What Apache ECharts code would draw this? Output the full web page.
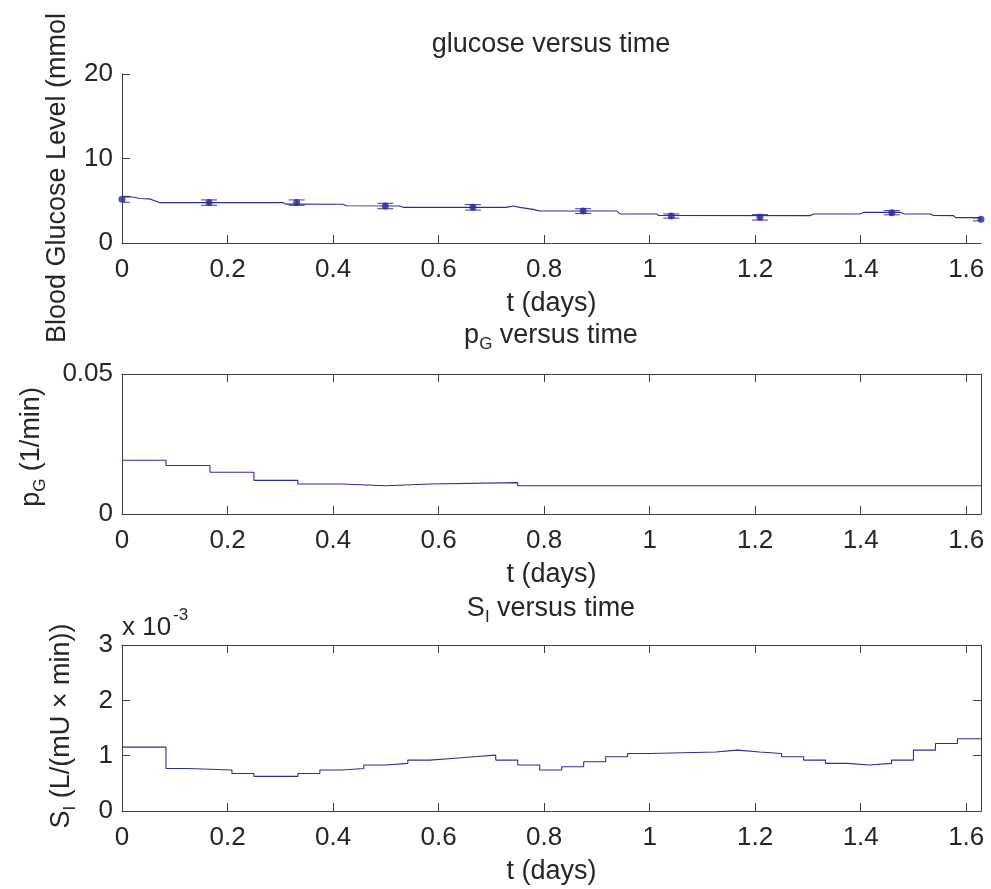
<!DOCTYPE html>
<html>
<head>
<meta charset="utf-8">
<title>glucose versus time</title>
<script src="https://cdn.jsdelivr.net/npm/echarts@6/dist/echarts.min.js"></script>
<style>
  html, body { margin: 0; padding: 0; background: #fff; }
  #chart { width: 991px; height: 889px; }
</style>
</head>
<body>
<div id="chart"></div>
<script>
// x axis (days)
const xTicks = [0, 0.2, 0.4, 0.6, 0.8, 1, 1.2, 1.4, 1.6];
const xMax = 1.628;

// glucose measurements (mmol/L) with error bars
const glucoseTimes = [0, 0.165, 0.331, 0.499, 0.665, 0.874, 1.041, 1.209, 1.459, 1.628];
const glucoseMeans = [5.17, 4.78, 4.78, 4.38, 4.22, 3.78, 3.19, 3.04, 3.59, 2.80];
const glucoseErr = [0.35, 0.32, 0.32, 0.32, 0.33, 0.28, 0.25, 0.32, 0.25, 0.18];

// model fit of glucose
const fitTimes = [0, 0.008, 0.02, 0.033, 0.052, 0.062, 0.071, 0.305, 0.311, 0.419, 0.425, 0.526, 0.533,
  0.729, 0.741, 0.754, 0.779, 0.79, 0.938, 0.944, 1.013, 1.017, 1.304, 1.311, 1.399, 1.406,
  1.475, 1.482, 1.532, 1.538, 1.576, 1.58, 1.628];
const fitValues = [5.45, 5.49, 5.45, 5.27, 5.22, 5.0, 4.78, 4.78, 4.6, 4.58, 4.4, 4.38, 4.22,
  4.22, 4.38, 4.22, 3.98, 3.8, 3.78, 3.45, 3.43, 3.25, 3.24, 3.43, 3.43, 3.63,
  3.63, 3.45, 3.43, 3.25, 3.24, 3.0, 3.0];

// pG (1/min), stairs
const pgTimes = [0, 0.0833, 0.1667, 0.25, 0.3333, 0.4167, 0.5, 0.5833, 0.75, 1.628];
const pgValues = [0.0192, 0.0173, 0.0149, 0.0120, 0.0107, 0.0101, 0.0107, 0.0112, 0.0101, 0.0101];

// SI (x 10^-3), stairs
const siTimes = [0, 0.0833, 0.125, 0.2083, 0.25, 0.3333, 0.375, 0.4167, 0.4583, 0.5, 0.5417,
  0.5833, 0.625, 0.6667, 0.7083, 0.75, 0.7917, 0.8333, 0.875, 0.9167, 0.9583, 1.0,
  1.125, 1.1667, 1.2083, 1.25, 1.2917, 1.3333, 1.375, 1.4167, 1.4583, 1.5, 1.5417, 1.5833, 1.628];
const siValues = [1.155, 0.769, 0.740, 0.679, 0.625, 0.679, 0.740, 0.769, 0.830, 0.860, 0.920,
  0.950, 0.980, 1.010, 0.920, 0.830, 0.740, 0.800, 0.890, 0.980, 1.040, 1.065,
  1.101, 1.065, 1.040, 0.980, 0.920, 0.860, 0.830, 0.860, 0.920, 1.101, 1.220, 1.305, 1.305];

// y ticks
const glucoseTicks = [0, 10, 20];
const pgTicks = [0, 0.05];
const siTicks = [0, 1, 2, 3];

const font = 'Liberation Sans, Arial, Helvetica, sans-serif';
const textColor = '#262626';
const axisColor = '#404040';
const lineColor = '#2c2c9c';

const chart = echarts.init(document.getElementById('chart'));

function pairs(xs, ys) {
  return xs.map((x, i) => [x, ys[i]]);
}

function xAx(gridIndex, position, withLabels) {
  return {
    type: 'value', gridIndex: gridIndex, position: position,
    min: 0, max: xMax,
    axisLine: { show: true, onZero: false, lineStyle: { color: axisColor, width: 1 } },
    axisTick: { show: true, inside: true, length: 8, customValues: xTicks, lineStyle: { color: axisColor } },
    axisLabel: { show: withLabels, customValues: xTicks, margin: 14, fontSize: 26, fontFamily: font, color: textColor },
    splitLine: { show: false },
    name: withLabels ? 't (days)' : '',
    nameLocation: 'middle', nameGap: 47,
    nameTextStyle: { fontSize: 27, fontFamily: font, color: textColor }
  };
}

function yAx(gridIndex, position, max, ticks, withLabels) {
  return {
    type: 'value', gridIndex: gridIndex, position: position,
    min: 0, max: max,
    axisLine: { show: true, onZero: false, lineStyle: { color: axisColor, width: 1 } },
    axisTick: { show: true, inside: true, length: 8, customValues: ticks, lineStyle: { color: axisColor } },
    axisLabel: { show: withLabels, customValues: ticks, margin: 9, fontSize: 26, fontFamily: font, color: textColor },
    splitLine: { show: false }
  };
}

const rich = {
  m: { fontSize: 27, fontFamily: font, color: textColor },
  s: { fontSize: 17, fontFamily: font, color: textColor, padding: [16, 0, 0, 0] }
};

function label(text, x, y, rotation) {
  return {
    type: 'text', x: x, y: y, rotation: rotation || 0,
    style: { text: text, rich: rich, fill: textColor, font: '27px ' + font, align: 'center', verticalAlign: 'middle' }
  };
}

const option = {
  animation: false,
  grid: [
    { left: 122, right: 10, top: 74, height: 169, outerBoundsMode: 'none' },
    { left: 122, right: 10, top: 374, height: 140, outerBoundsMode: 'none' },
    { left: 122, right: 10, top: 645, height: 166, outerBoundsMode: 'none' }
  ],
  xAxis: [
    xAx(0, 'bottom', true),
    xAx(1, 'bottom', true),
    xAx(1, 'top', false),
    xAx(2, 'bottom', true),
    xAx(2, 'top', false)
  ],
  yAxis: [
    yAx(0, 'left', 20, glucoseTicks, true),
    yAx(1, 'left', 0.05, pgTicks, true),
    yAx(1, 'right', 0.05, pgTicks, false),
    yAx(2, 'left', 3, siTicks, true),
    yAx(2, 'right', 3, siTicks, false)
  ],
  graphic: [
    label('{m|glucose versus time}', 551, 45),
    label('{m|p}{s|G}{m| versus time}', 551, 336),
    label('{m|S}{s|I}{m| versus time}', 551, 609),
    label('{m|Blood Glucose Level (mmol}', 58, 178, Math.PI / 2),
    label('{m|p}{s|G}{m| (1/min)}', 32, 447, Math.PI / 2),
    label('{m|S}{s|I}{m| (L/(mU \u00d7 min))}', 62, 726, Math.PI / 2),
    { type: 'text', x: 122, y: 628, style: { text: 'x 10', fill: textColor, font: '26px ' + font, align: 'left', verticalAlign: 'middle' } },
    { type: 'text', x: 173, y: 615, style: { text: '-3', fill: textColor, font: '17px ' + font, align: 'left', verticalAlign: 'middle' } }
  ],
  series: [
    {
      name: 'fit', type: 'line', xAxisIndex: 0, yAxisIndex: 0,
      data: pairs(fitTimes, fitValues),
      showSymbol: false, lineStyle: { color: lineColor, width: 1.1 }
    },
    {
      name: 'error', type: 'custom', xAxisIndex: 0, yAxisIndex: 0, clip: true,
      data: glucoseTimes.map((t, i) => [t, glucoseMeans[i] - glucoseErr[i], glucoseMeans[i] + glucoseErr[i]]),
      renderItem: function (params, api) {
        const lo = api.coord([api.value(0), api.value(1)]);
        const hi = api.coord([api.value(0), api.value(2)]);
        const w = 8;
        const st = { stroke: '#4a4aa8', lineWidth: 1.1 };
        return {
          type: 'group',
          children: [
            { type: 'line', shape: { x1: lo[0], y1: lo[1], x2: hi[0], y2: hi[1] }, style: st },
            { type: 'line', shape: { x1: lo[0] - w, y1: lo[1], x2: lo[0] + w, y2: lo[1] }, style: st },
            { type: 'line', shape: { x1: hi[0] - w, y1: hi[1], x2: hi[0] + w, y2: hi[1] }, style: st }
          ]
        };
      }
    },
    {
      name: 'measured', type: 'scatter', xAxisIndex: 0, yAxisIndex: 0,
      data: pairs(glucoseTimes, glucoseMeans),
      symbol: 'circle', symbolSize: 7, itemStyle: { color: '#25259a' }, clip: false
    },
    {
      name: 'pG', type: 'line', xAxisIndex: 1, yAxisIndex: 1, step: 'end',
      data: pairs(pgTimes, pgValues),
      showSymbol: false, lineStyle: { color: lineColor, width: 1.1 }
    },
    {
      name: 'SI', type: 'line', xAxisIndex: 3, yAxisIndex: 3, step: 'end',
      data: pairs(siTimes, siValues),
      showSymbol: false, lineStyle: { color: lineColor, width: 1.1 }
    }
  ]
};

chart.setOption(option);
</script>
</body>
</html>
